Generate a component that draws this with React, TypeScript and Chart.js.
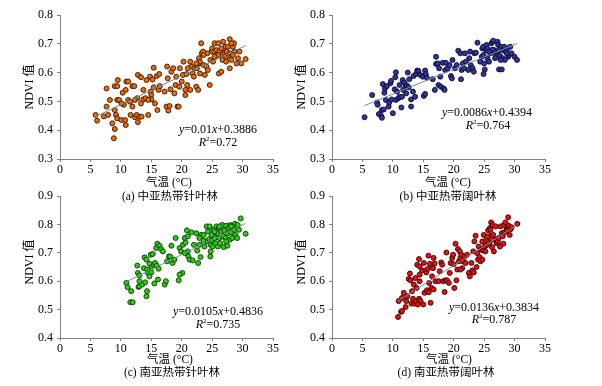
import React, { useEffect, useRef } from "react";
import { Chart, registerables } from "chart.js";
Chart.register(...registerables);

// ---------- DATA ----------
const X_MIN = 0;
const X_MAX = 35;
const X_STEP = 5;
const Y_RANGES = [[0.3, 0.8], [0.3, 0.8], [0.4, 0.9], [0.4, 0.9]];
const Y_STEP = 0.1;

const PANEL_CAPTIONS = ["(a) 中亚热带针叶林", "(b) 中亚热带阔叶林", "(c) 南亚热带针叶林", "(d) 南亚热带阔叶林"];
const X_TITLE = "气温 (°C)";
const Y_TITLE = "NDVI 值";

const SLOPES = [0.01, 0.0086, 0.0105, 0.0136];
const INTERCEPTS = [0.3886, 0.4394, 0.4836, 0.3834];
const R2_VALUES = ["0.72", "0.764", "0.735", "0.787"];
const TREND_X_RANGES = [[5.7, 30.5], [5.3, 30.4], [10.7, 30.4], [10.8, 30.4]];

// [temperature °C, NDVI]
const pointsA = [
  [5.85,0.453],[6.1,0.433],[7.2,0.448],[7.65,0.545],[7.65,0.482],[7.9,0.453],[8.2,0.505],[8.6,0.424],[8.85,0.372],[9.0,0.404],
  [9.0,0.553],[9.0,0.47],[9.2,0.453],[9.4,0.553],[9.4,0.505],[9.5,0.574],[9.4,0.441],[9.7,0.505],[10.1,0.435],[10.3,0.53],
  [10.5,0.488],[10.7,0.435],[10.8,0.418],[10.8,0.54],[10.9,0.569],[11.2,0.569],[11.2,0.505],[11.6,0.453],[11.9,0.482],[11.9,0.553],
  [12.2,0.553],[12.3,0.445],[12.6,0.453],[12.7,0.511],[12.8,0.428],[12.8,0.592],[13.1,0.447],[13.3,0.584],[13.3,0.493],[13.4,0.447],
  [13.7,0.507],[14.05,0.511],[14.2,0.574],[14.5,0.453],[14.8,0.586],[14.9,0.534],[15.0,0.522],[15.0,0.507],[15.2,0.576],[15.4,0.617],
  [15.4,0.549],[15.6,0.493],[15.9,0.588],[16.0,0.47],[16.2,0.54],[16.3,0.595],[17.5,0.482],[17.6,0.621],[17.7,0.58],[17.8,0.468],
  [18.0,0.484],[18.15,0.542],[18.3,0.603],[18.6,0.615],[18.8,0.528],[19.0,0.557],[19.1,0.586],[19.3,0.482],[19.5,0.482],[19.7,0.615],
  [20.0,0.569],[20.2,0.592],[20.3,0.638],[20.6,0.54],[20.6,0.522],[20.8,0.595],[20.9,0.557],[21.4,0.638],[21.4,0.54],[21.6,0.621],
  [21.8,0.597],[22.1,0.615],[22.4,0.551],[22.5,0.615],[22.7,0.54],[22.85,0.65],[22.85,0.632],[23.0,0.597],[23.2,0.702],[23.3,0.667],
  [23.5,0.673],[23.6,0.626],[23.8,0.592],[24.05,0.621],[24.2,0.667],[24.3,0.609],[24.6,0.557],[24.7,0.644],[24.9,0.673],[25.0,0.684],
  [25.15,0.638],[25.3,0.673],[25.4,0.702],[25.7,0.678],[26.0,0.702],[26.1,0.597],[26.2,0.673],[26.5,0.661],[26.5,0.603],[26.7,0.644],
  [26.8,0.707],[26.9,0.678],[27.1,0.667],[27.2,0.69],[27.3,0.655],[27.4,0.673],[27.6,0.69],[27.8,0.661],[27.9,0.716],[27.9,0.615],
  [28.0,0.667],[28.15,0.644],[28.4,0.69],[28.6,0.702],[28.7,0.673],[29.0,0.632],[29.25,0.65],[29.5,0.673],[29.8,0.632],[30.5,0.647],
  [26.0,0.661],[26.5,0.684],[27.3,0.638],[28.15,0.702],[28.4,0.661],[25.4,0.655],[23.6,0.661],[23.0,0.638],[22.4,0.632],[22.0,0.586],
  [21.0,0.615],[19.6,0.551],[17.2,0.534],[16.4,0.553],[14.5,0.505],[13.7,0.54],[12.3,0.505],[11.5,0.499],[10.1,0.493]
];

const pointsB = [
  [5.35,0.445],[6.6,0.522],[7.4,0.496],[7.5,0.488],[7.7,0.456],[8.1,0.449],[8.2,0.443],[8.2,0.47],[8.35,0.56],[8.5,0.472],
  [8.6,0.53],[8.7,0.545],[8.85,0.505],[9.0,0.553],[9.3,0.482],[9.4,0.496],[9.6,0.563],[9.7,0.571],[9.8,0.507],[10.0,0.459],
  [10.3,0.542],[10.4,0.584],[10.5,0.601],[10.5,0.505],[10.7,0.534],[10.9,0.511],[11.1,0.557],[11.1,0.516],[11.4,0.479],[11.5,0.516],
  [11.6,0.574],[11.7,0.54],[11.9,0.565],[12.1,0.551],[12.2,0.528],[12.3,0.555],[12.45,0.6],[12.6,0.549],[12.7,0.577],[13.0,0.482],
  [13.0,0.507],[13.3,0.534],[13.4,0.588],[13.65,0.516],[13.8,0.595],[14.0,0.607],[14.2,0.606],[14.5,0.592],[14.9,0.586],[15.1,0.519],
  [15.3,0.526],[15.3,0.607],[15.4,0.595],[15.6,0.582],[16.55,0.577],[16.9,0.54],[17.1,0.655],[17.1,0.63],[17.4,0.632],[17.5,0.557],
  [17.6,0.615],[17.8,0.586],[17.9,0.551],[18.2,0.634],[18.35,0.545],[18.5,0.54],[18.6,0.609],[18.7,0.634],[19.0,0.615],[19.3,0.626],
  [19.55,0.588],[19.7,0.58],[19.8,0.644],[20.2,0.615],[20.5,0.626],[20.75,0.676],[21.1,0.667],[21.2,0.577],[21.3,0.609],[21.5,0.632],
  [21.7,0.615],[21.85,0.667],[22.0,0.638],[22.4,0.609],[22.55,0.65],[22.7,0.673],[22.8,0.626],[23.1,0.615],[23.3,0.603],[23.4,0.667],
  [23.65,0.669],[23.9,0.704],[24.35,0.638],[24.6,0.655],[24.7,0.684],[24.85,0.69],[24.9,0.595],[25.0,0.632],[25.1,0.611],[25.3,0.678],
  [25.4,0.696],[25.55,0.65],[25.8,0.638],[26.0,0.667],[26.2,0.702],[26.4,0.707],[26.5,0.711],[26.65,0.678],[26.9,0.661],[27.1,0.673],
  [27.2,0.707],[27.3,0.696],[27.45,0.611],[27.6,0.658],[27.7,0.69],[27.9,0.611],[28.0,0.65],[28.1,0.678],[28.4,0.644],[28.55,0.673],
  [28.85,0.684],[28.95,0.655],[29.1,0.661],[29.3,0.69],[29.5,0.667],[30.0,0.655],[30.4,0.644],[25.55,0.684],[26.4,0.68],[27.45,0.678],
  [28.3,0.69],[28.7,0.667],[24.9,0.661],[25.8,0.673],[26.8,0.65],[27.7,0.644]
];

const pointsC = [
  [10.9,0.594],[11.1,0.579],[11.55,0.526],[11.95,0.526],[11.7,0.565],[12.7,0.655],[12.8,0.629],[12.9,0.58],[13.05,0.62],[13.05,0.582],
  [13.5,0.588],[13.8,0.646],[13.9,0.684],[14.0,0.596],[14.2,0.547],[14.2,0.676],[14.3,0.641],[14.3,0.565],[14.45,0.629],[14.7,0.662],
  [14.9,0.693],[15.0,0.631],[15.1,0.65],[15.25,0.696],[15.4,0.658],[15.5,0.592],[15.6,0.664],[15.8,0.717],[15.9,0.655],[16.0,0.732],
  [16.1,0.606],[16.2,0.644],[16.35,0.725],[16.6,0.713],[16.9,0.705],[17.2,0.588],[17.4,0.6],[17.6,0.67],[17.9,0.687],[18.1,0.687],
  [18.3,0.725],[18.5,0.664],[18.8,0.676],[19.0,0.752],[19.5,0.603],[19.65,0.717],[19.9,0.705],[20.1,0.629],[20.2,0.728],[20.5,0.752],
  [20.6,0.736],[20.85,0.779],[21.0,0.705],[21.1,0.687],[21.3,0.676],[21.6,0.772],[21.8,0.673],[22.0,0.728],[22.4,0.769],[22.55,0.708],
  [22.7,0.664],[22.9,0.728],[23.1,0.685],[23.2,0.763],[23.6,0.763],[23.75,0.722],[24.0,0.74],[24.1,0.793],[24.3,0.775],[24.5,0.748],
  [24.6,0.793],[24.7,0.687],[24.75,0.728],[24.9,0.763],[25.0,0.743],[25.1,0.722],[25.2,0.781],[25.4,0.752],[25.55,0.734],[25.7,0.793],
  [25.8,0.769],[25.95,0.722],[26.1,0.787],[26.2,0.752],[26.3,0.734],[26.5,0.775],[26.65,0.798],[26.8,0.758],[26.9,0.72],[27.05,0.779],
  [27.2,0.752],[27.3,0.795],[27.5,0.725],[27.6,0.769],[27.75,0.787],[27.9,0.746],[28.0,0.798],[28.1,0.772],[28.3,0.752],[28.4,0.793],
  [28.6,0.781],[28.75,0.802],[28.85,0.763],[29.0,0.793],[29.1,0.752],[29.2,0.798],[29.4,0.781],[29.7,0.821],[30.5,0.767],[23.6,0.742],
  [25.4,0.775],[26.2,0.793],[27.3,0.74],[28.1,0.793],[24.75,0.705],[22.9,0.752],[21.0,0.758],[20.5,0.699],[19.65,0.623],[14.7,0.617],
  [13.05,0.6]
];

const pointsD = [
  [10.85,0.474],[10.95,0.53],[11.35,0.492],[11.5,0.495],[11.5,0.541],[12.1,0.509],[12.2,0.53],[12.35,0.547],[12.6,0.608],[12.8,0.627],
  [12.9,0.603],[13.05,0.521],[13.15,0.565],[13.3,0.538],[13.45,0.588],[13.55,0.521],[13.7,0.611],[13.7,0.53],[13.9,0.576],[14.0,0.658],
  [14.1,0.518],[14.3,0.538],[14.3,0.678],[14.4,0.6],[14.4,0.652],[14.55,0.53],[14.8,0.638],[15.0,0.518],[15.1,0.664],[15.2,0.559],
  [15.35,0.638],[15.5,0.631],[15.6,0.568],[15.75,0.643],[15.85,0.69],[15.9,0.561],[15.95,0.594],[16.1,0.661],[16.2,0.524],[16.35,0.576],
  [16.45,0.617],[16.6,0.646],[16.7,0.571],[16.85,0.662],[17.0,0.6],[17.55,0.6],[17.7,0.635],[17.95,0.666],[18.1,0.658],[18.3,0.6],
  [18.5,0.562],[18.65,0.603],[18.8,0.701],[18.9,0.603],[19.2,0.594],[19.35,0.629],[19.5,0.664],[19.75,0.682],[19.9,0.693],[20.0,0.66],
  [20.1,0.576],[20.3,0.732],[20.45,0.603],[20.6,0.641],[20.7,0.713],[20.85,0.67],[21.0,0.705],[21.1,0.682],[21.25,0.693],[21.4,0.646],
  [21.55,0.67],[21.8,0.687],[21.95,0.664],[22.2,0.693],[22.5,0.629],[22.65,0.617],[22.9,0.664],[23.05,0.638],[23.2,0.705],[23.3,0.631],
  [23.4,0.74],[23.6,0.76],[23.75,0.65],[23.85,0.699],[24.0,0.676],[24.1,0.722],[24.25,0.685],[24.4,0.67],[24.5,0.711],[24.7,0.74],
  [24.85,0.708],[24.95,0.763],[25.1,0.722],[25.2,0.705],[25.4,0.746],[25.5,0.728],[25.65,0.779],[25.8,0.734],[25.95,0.787],[26.05,0.76],
  [26.15,0.807],[26.3,0.72],[26.4,0.798],[26.5,0.763],[26.6,0.705],[26.8,0.746],[27.05,0.734],[27.25,0.74],[27.4,0.752],[27.6,0.722],
  [27.7,0.793],[27.9,0.769],[28.05,0.758],[28.15,0.732],[28.25,0.798],[28.35,0.772],[28.5,0.807],[28.7,0.783],[28.8,0.779],[28.95,0.825],
  [29.05,0.795],[29.2,0.763],[29.35,0.783],[29.5,0.79],[30.45,0.802],[26.05,0.781],[26.9,0.793],[25.5,0.757],[26.3,0.746],[24.7,0.676],
  [21.1,0.641],[16.7,0.682],[14.4,0.623],[11.8,0.559]
];

const PANEL_POINTS = [pointsA, pointsB, pointsC, pointsD];

// ---------- STYLE / LAYOUT ----------
const W = 602;
const H = 386;
const SERIF = '"Liberation Serif", "Times New Roman", serif';
const CJK = '"Liberation Serif", "Noto Sans CJK SC", serif';
const FILLS = ["#E46C0C", "#32349A", "#2DCB14", "#E01414"];
const BORDERS = ["#3A1800", "#0A0A30", "#0C3A00", "#3A0000"];
const TREND_COLOR = "#6F8C98";
const AXIS_COLOR = "#808080";

const BOXES = [
  { left: 60, right: 273, top: 15, bottom: 159 },
  { left: 332, right: 545, top: 15, bottom: 159 },
  { left: 60, right: 273, top: 196, bottom: 338 },
  { left: 332, right: 545, top: 196, bottom: 338 },
];
const TEXT_POS = [
  { yt: [30, 87], xt: [169, 183], cap: [170, 197], eq: [218, 130], r2: [218, 143] },
  { yt: [302, 87], xt: [448, 183], cap: [448, 197], eq: [487, 113], r2: [488, 126] },
  { yt: [30, 262], xt: [170, 360], cap: [172, 373], eq: [218, 312], r2: [218, 325] },
  { yt: [302, 262], xt: [449, 360], cap: [446, 373], eq: [494, 308], r2: [494, 320] },
];

const Y_AXIS_W = 40;
const X_AXIS_H = 25;

type Part = { t: string; italic?: boolean; sup?: boolean };

function drawRich(ctx: CanvasRenderingContext2D, parts: Part[], cx: number, cy: number, size: number) {
  const fonts = parts.map(
    (p) => `${p.italic ? "italic " : ""}${p.sup ? Math.round(size * 0.62) : size}px ${SERIF}`
  );
  const widths = parts.map((p, i) => {
    ctx.font = fonts[i];
    return ctx.measureText(p.t).width;
  });
  const total = widths.reduce((a, b) => a + b, 0);
  let x = cx - total / 2;
  ctx.textAlign = "left";
  ctx.textBaseline = "middle";
  ctx.fillStyle = "#000";
  parts.forEach((p, i) => {
    ctx.font = fonts[i];
    ctx.fillText(p.t, x, p.sup ? cy - size * 0.32 : cy);
    x += widths[i];
  });
}

function makeTextPlugin(i: number) {
  return {
    id: "panelText" + i,
    afterDraw(chart: any) {
      const ctx: CanvasRenderingContext2D = chart.ctx;
      const tp = TEXT_POS[i];
      ctx.save();
      ctx.fillStyle = "#000";
      // y title
      ctx.save();
      ctx.translate(tp.yt[0], tp.yt[1]);
      ctx.rotate(-Math.PI / 2);
      ctx.font = `12px ${CJK}`;
      ctx.textAlign = "center";
      ctx.textBaseline = "middle";
      ctx.fillText(Y_TITLE, 0, 0);
      ctx.restore();
      // x title
      ctx.font = `11.5px ${CJK}`;
      ctx.textAlign = "center";
      ctx.textBaseline = "middle";
      ctx.fillText(X_TITLE, tp.xt[0], tp.xt[1]);
      // caption
      ctx.font = `11.5px ${CJK}`;
      ctx.fillText(PANEL_CAPTIONS[i], tp.cap[0], tp.cap[1]);
      // equation
      drawRich(
        ctx,
        [
          { t: "y", italic: true },
          { t: "=" + String(SLOPES[i]) },
          { t: "x", italic: true },
          { t: "+" + String(INTERCEPTS[i]) },
        ],
        tp.eq[0],
        tp.eq[1],
        12
      );
      drawRich(
        ctx,
        [{ t: "R", italic: true }, { t: "2", sup: true }, { t: "=" + R2_VALUES[i] }],
        tp.r2[0],
        tp.r2[1],
        12
      );
      ctx.restore();
    },
  };
}

function Panel({ index }: { index: number }) {
  const ref = useRef<HTMLCanvasElement | null>(null);
  useEffect(() => {
    if (!ref.current) return;
    const box = BOXES[index];
    const [yMin, yMax] = Y_RANGES[index];
    const [tx0, tx1] = TREND_X_RANGES[index];
    const trend = [tx0, tx1].map((x) => ({ x, y: SLOPES[index] * x + INTERCEPTS[index] }));
    const pts = PANEL_POINTS[index].map(([x, y]) => ({ x, y }));
    const tickFont = { family: SERIF, size: 12 };
    const chart = new Chart(ref.current, {
      type: "scatter",
      data: {
        datasets: [
          {
            type: "line",
            data: trend,
            borderColor: TREND_COLOR,
            borderWidth: 1,
            pointRadius: 0,
            fill: false,
          } as any,
          {
            data: pts,
            backgroundColor: FILLS[index],
            borderColor: BORDERS[index],
            borderWidth: 0.9,
            pointRadius: 2.5,
          },
        ],
      },
      options: {
        responsive: false,
        animation: false,
        events: [],
        layout: {
          padding: {
            left: box.left - Y_AXIS_W,
            right: W - box.right,
            top: box.top,
            bottom: H - box.bottom - X_AXIS_H,
          },
        },
        plugins: { legend: { display: false }, tooltip: { enabled: false }, title: { display: false } },
        scales: {
          x: {
            type: "linear",
            min: X_MIN,
            max: X_MAX,
            afterFit: (s: any) => {
              s.height = X_AXIS_H;
            },
            ticks: { stepSize: X_STEP, font: tickFont, color: "#000", padding: 1, maxRotation: 0 },
            grid: { display: true, drawOnChartArea: false, drawTicks: true, tickLength: 3, color: AXIS_COLOR },
            border: { display: true, color: AXIS_COLOR, width: 1 },
          },
          y: {
            type: "linear",
            min: yMin,
            max: yMax,
            afterFit: (s: any) => {
              s.width = Y_AXIS_W;
            },
            ticks: {
              stepSize: Y_STEP,
              font: tickFont,
              color: "#000",
              padding: 4,
              callback: (v: any) => Number(v).toFixed(1),
            },
            grid: { display: true, drawOnChartArea: false, drawTicks: true, tickLength: 3, color: AXIS_COLOR },
            border: { display: true, color: AXIS_COLOR, width: 1 },
          },
        },
      },
      plugins: [makeTextPlugin(index)],
    } as any);
    return () => chart.destroy();
  }, [index]);
  return (
    <canvas
      ref={ref}
      width={W}
      height={H}
      style={{ position: "absolute", left: 0, top: 0, width: W, height: H, display: "block" }}
    />
  );
}

export default function App() {
  return (
    <div style={{ position: "absolute", left: 0, top: 0, width: W, height: H, background: "#fff", overflow: "hidden" }}>
      {[0, 1, 2, 3].map((i) => (
        <Panel key={i} index={i} />
      ))}
    </div>
  );
}
